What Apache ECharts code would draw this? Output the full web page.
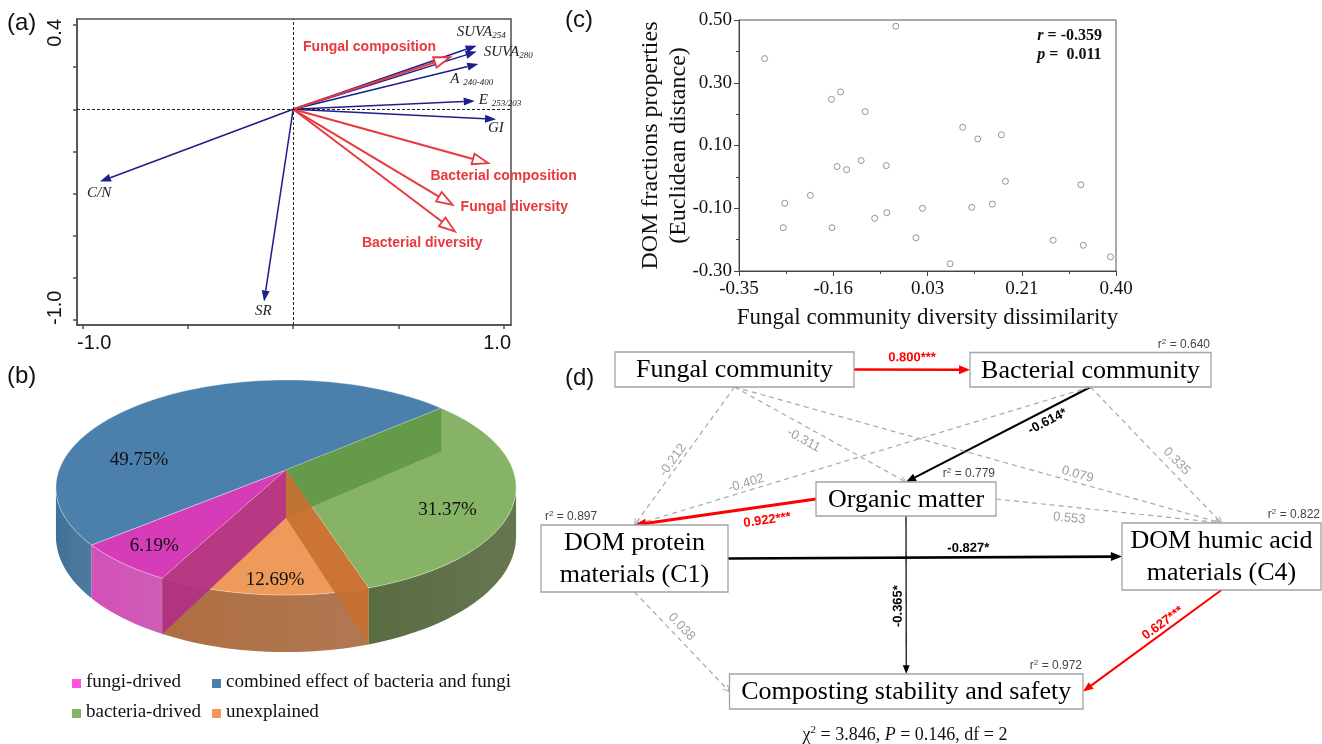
<!DOCTYPE html>
<html>
<head>
<meta charset="utf-8">
<script src="https://cdn.jsdelivr.net/npm/echarts@6/dist/echarts.min.js"></script>
<style>
  html, body { margin: 0; padding: 0; background: #fff; }
  #main { width: 1322px; height: 744px; }
</style>
</head>
<body>
<div id="main"></div>
<script>
// fonts
const SERIF = 'Liberation Serif';
const SANS = 'Liberation Sans';

// ---------- (a) RDA biplot data ----------
const aVarNames = ['SUVA_254', 'SUVA_280', 'A _240-400', 'E _253/203', 'GI', 'C/N', 'SR',
  'Fungal composition', 'Bacterial composition', 'Fungal diversity', 'Bacterial diversity'];
const aVarX = [0.870, 0.870, 0.878, 0.861, 0.962, -0.916, -0.138, 0.744, 0.926, 0.756, 0.767];
const aVarY = [0.302, 0.274, 0.215, 0.039, -0.047, -0.343, -0.912, 0.247, -0.256, -0.454, -0.580];
const aVarGroup = ['env', 'env', 'env', 'env', 'env', 'env', 'env', 'micro', 'micro', 'micro', 'micro'];
const aXTicks = [-1.0, -0.5, 0, 0.5, 1.0];
const aYTicks = [-1.0, -0.8, -0.6, -0.4, -0.2, 0, 0.2, 0.4];
const aXLabels = ['-1.0', '1.0'];
const aYLabels = ['-1.0', '0.4'];

// ---------- (b) pie data ----------
const pieNames = ['fungi-drived', 'combined effect of bacteria and fungi', 'bacteria-drived', 'unexplained'];
const pieValues = [6.19, 49.75, 31.37, 12.69];

// ---------- (c) scatter data ----------
const cX = [-0.299, -0.038, -0.166, -0.148, -0.099, 0.095, 0.125, 0.172, -0.155, -0.136,
  -0.107, -0.057, 0.180, 0.330, -0.259, -0.208, -0.262, -0.165, -0.080, -0.056,
  0.015, 0.002, 0.070, 0.113, 0.154, 0.275, 0.335, 0.389];
const cY = [0.377, 0.480, 0.247, 0.271, 0.208, 0.158, 0.121, 0.134, 0.033, 0.023,
  0.052, 0.036, -0.014, -0.025, -0.084, -0.059, -0.162, -0.162, -0.132, -0.114,
  -0.100, -0.194, -0.277, -0.097, -0.087, -0.202, -0.218, -0.255];
const cXTicks = [-0.35, -0.1625, 0.025, 0.2125, 0.40];
const cXLabels = ['-0.35', '-0.16', '0.03', '0.21', '0.40'];
const cYTicks = [-0.30, -0.10, 0.10, 0.30, 0.50];
const cYLabels = ['-0.30', '-0.10', '0.10', '0.30', '0.50'];
const cR = '-0.359';
const cP = '0.011';

// ---------- (d) structural equation model ----------
const semNodes = ['Fungal community', 'Bacterial community', 'Organic matter',
  'DOM protein\nmaterials (C1)', 'DOM humic acid\nmaterials (C4)', 'Composting stability and safety'];
const semR2 = [null, 0.640, 0.779, 0.897, 0.822, 0.972];
const pathFrom = [0, 1, 0, 0, 0, 1, 1, 2, 2, 2, 3, 3, 4];
const pathTo   = [1, 2, 2, 3, 4, 3, 4, 3, 4, 5, 4, 5, 5];
const pathCoef = [0.800, -0.614, -0.311, -0.212, 0.079, -0.402, 0.335, 0.922, 0.553, -0.365, -0.827, 0.038, 0.627];
const pathSig  = ['***', '*', '', '', '', '', '', '***', '', '*', '*', '', '***'];
const fitChi2 = '3.846';
const fitP = '0.146';
const fitDf = '2';

// ---------- layout (pixels) ----------
// node boxes [x, y, w, h]
const nodeBox = [[615, 352, 239, 35], [970, 352.5, 241, 34.5], [816, 482, 180, 34],
  [541, 525, 187, 67], [1122, 523, 199, 67], [729.5, 674, 353.5, 35]];
const r2Side = ['', 'right', 'right', 'left', 'right', 'right'];
const pathAnchor = [['r', 'l'], ['b', 't'], ['b', 't'], ['b', 't'], ['b', 't'], ['b', 't'], ['b', 't'],
  ['l', 't'], ['r', 't'], ['b', 't'], ['r', 'l'], ['b', 'l'], ['b', 'r']];
// where the coefficient sits: fraction along the path, offset to the side
const pathLabelPos = [[0.5, -12], [0.26, -11], [0.44, 13], [0.56, 7], [0.70, -8], [0.75, 7.5], [0.60, -10.5],
  [0.28, -14], [0.33, 11.5], [0.57, 8], [0.61, -9], [0.42, -10], [0.39, 8]];
// label offset from arrow tip (left edge, middle)
const aLabelOffset = [[-20, -14], [7, 1], [-28, 15], [4, -1], [-8, 9], [-13, 12], [-9, 10],
  [-147, -10], [-58, 13], [8, 2], [-93, 12]];
// 3D pie projection
const PIE = { cx: 286, cy: 470, rx: 227, ry: 104.7, persp: 0.163, depth: 47.7, start: 117.8 };
const pieTop = ['#d63cb8', '#4a80ab', '#86b366', '#ee9a5a'];
const pieSide = ['#c94db0', '#3d6c93', '#56673f', '#a8693f'];
const pieWall = ['#b12d87', '#3a6288', '#5f9547', '#c87030'];
const pieWallAlpha = [0.9, 0, 0.85, 0.9];
const pieLegend = ['#ff55dd', '#4a7fab', '#86b366', '#f09856'];
// label spot [angle, radius] on the top face
const pieLabelSpot = [[128.7, 0.83], [188.4, 0.665], [28.2, 0.76], [92.6, 0.9]];

const chart = echarts.init(document.getElementById('main'), null, { renderer: 'canvas' });

// ---- helpers ----
function nearestLabel(v, ticks, labels) {
  let best = 0;
  for (let i = 1; i < ticks.length; i++) {
    if (Math.abs(ticks[i] - v) < Math.abs(ticks[best] - v)) best = i;
  }
  return labels[best];
}

function richName(name) {
  const parts = name.split('_');
  let text = '{m|' + parts[0] + '}';
  if (parts[1]) text += '{s|' + parts[1] + '}';
  return text;
}

// (a) arrows
function renderArrow(params, api) {
  const i = api.value(2);
  const p0 = api.coord([0, 0]);
  const p1 = api.coord([api.value(0), api.value(1)]);
  const env = aVarGroup[i] === 'env';
  const color = env ? '#1c1f8c' : '#e8393f';
  const dx = p1[0] - p0[0], dy = p1[1] - p0[1];
  const len = Math.hypot(dx, dy), ux = dx / len, uy = dy / len, nx = -uy, ny = ux;
  const L = env ? 11 : 16, W = env ? 8 : 11;
  const bx = p1[0] - ux * L, by = p1[1] - uy * L;
  const head = [[p1[0], p1[1]], [bx + nx * W / 2, by + ny * W / 2], [bx - nx * W / 2, by - ny * W / 2]];
  const off = aLabelOffset[i];
  const children = [
    { type: 'line', shape: { x1: p0[0], y1: p0[1], x2: bx, y2: by }, style: { stroke: color, lineWidth: env ? 1.5 : 2 } },
    { type: 'polygon', shape: { points: head },
      style: env ? { fill: color } : { fill: '#fff', stroke: color, lineWidth: 1.8 } }
  ];
  if (env) {
    children.push({
      type: 'text', x: p1[0] + off[0], y: p1[1] + off[1],
      style: {
        text: richName(aVarNames[i]), align: 'left', verticalAlign: 'middle',
        rich: {
          m: { fontFamily: SERIF, fontStyle: 'italic', fontSize: 15, fill: '#222', lineHeight: 16 },
          s: { fontFamily: SERIF, fontStyle: 'italic', fontSize: 9, fill: '#222', lineHeight: 16, verticalAlign: 'bottom' }
        }
      }
    });
  } else {
    children.push({
      type: 'text', x: p1[0] + off[0], y: p1[1] + off[1],
      style: { text: aVarNames[i], align: 'left', verticalAlign: 'middle',
        fontFamily: SANS, fontWeight: 'bold', fontSize: 14, fill: color }
    });
  }
  return { type: 'group', children: children };
}

// (b) 3D pie
function proj(phi, r, down) {
  const a = phi * Math.PI / 180, X = r * Math.cos(a), Z = r * Math.sin(a);
  const s = 1 / (1 - PIE.persp * Z);
  return [PIE.cx + PIE.rx * X * s, PIE.cy + (PIE.ry * Z + PIE.depth * down) * s];
}
function sliceAngles(i) {
  const total = pieValues.reduce((a, b) => a + b, 0);
  let a0 = PIE.start;
  for (let k = 0; k < i; k++) a0 += pieValues[k] / total * 360;
  return [a0, a0 + pieValues[i] / total * 360];
}
function arc(a0, a1, down) {
  const pts = [];
  const n = Math.max(2, Math.ceil((a1 - a0) / 2));
  for (let k = 0; k <= n; k++) pts.push(proj(a0 + (a1 - a0) * k / n, 1, down));
  return pts;
}
function renderPieSides(params) {
  const i = params.dataIndex;
  const [a0, a1] = sliceAngles(i);
  const sil = Math.asin(PIE.persp) * 180 / Math.PI;
  const children = [];
  [[sil, 180 - sil], [360 + sil, 540 - sil]].forEach(r => {
    const s0 = Math.max(a0, r[0]), s1 = Math.min(a1, r[1]);
    if (s1 > s0) {
      const top = arc(s0, s1, 0), bot = arc(s0, s1, 1).reverse();
      children.push({
        type: 'polygon', shape: { points: top.concat(bot) },
        style: {
          fill: new echarts.graphic.LinearGradient(0, 0, 1, 0, [
            { offset: 0, color: echarts.color.lift(pieSide[i], -0.05) },
            { offset: 1, color: echarts.color.lift(pieSide[i], 0.1) }
          ])
        }
      });
    }
  });
  return { type: 'group', children: children };
}
function renderPieTops(params) {
  const i = params.dataIndex;
  const [a0, a1] = sliceAngles(i);
  const pts = [proj(0, 0, 0)].concat(arc(a0, a1, 0));
  return {
    type: 'polygon', shape: { points: pts },
    style: { fill: pieTop[i], stroke: 'rgba(255,255,255,0.45)', lineWidth: 0.8 }
  };
}
// inner walls seen through the translucent slices, plus the labels
function renderPieWalls(params) {
  const i = params.dataIndex;
  const a = sliceAngles(i)[0];
  const spot = proj(pieLabelSpot[i][0], pieLabelSpot[i][1], 0);
  const children = [];
  if (pieWallAlpha[i] > 0) {
    children.push({
      type: 'polygon',
      shape: { points: [proj(0, 0, 0), proj(a, 1, 0), proj(a, 1, 1), proj(0, 0, 1)] },
      style: { fill: pieWall[i], opacity: pieWallAlpha[i] }
    });
  }
  children.push({ type: 'text', x: spot[0], y: spot[1], z2: 10,
    style: { text: pieValues[i].toFixed(2) + '%', align: 'center', verticalAlign: 'middle',
      fontFamily: SERIF, fontSize: 19, fill: '#111' } });
  return { type: 'group', children: children };
}

// (d) path diagram
function anchor(i, side) {
  const b = nodeBox[i];
  if (side === 't') return [b[0] + b[2] / 2, b[1]];
  if (side === 'b') return [b[0] + b[2] / 2, b[1] + b[3]];
  if (side === 'l') return [b[0], b[1] + b[3] / 2];
  return [b[0] + b[2], b[1] + b[3] / 2];
}
function renderPath(params) {
  const i = params.dataIndex;
  const a = anchor(pathFrom[i], pathAnchor[i][0]);
  const b = anchor(pathTo[i], pathAnchor[i][1]);
  const coef = pathCoef[i], sig = pathSig[i];
  const dx = b[0] - a[0], dy = b[1] - a[1];
  const len = Math.hypot(dx, dy), ux = dx / len, uy = dy / len, nx = -uy, ny = ux;
  const color = sig ? (coef > 0 ? '#ff0000' : '#000000') : '#a8a8a8';
  const width = sig ? Math.abs(coef) * 3.3 : 1.2;
  const children = [];
  if (sig) {
    const L = 7 + width * 1.5, W = 5 + width * 1.5;
    const bx = b[0] - ux * L, by = b[1] - uy * L;
    children.push({ type: 'line', shape: { x1: a[0], y1: a[1], x2: bx + ux, y2: by + uy },
      style: { stroke: color, lineWidth: width } });
    children.push({ type: 'polygon',
      shape: { points: [b, [bx + nx * W / 2, by + ny * W / 2], [bx - nx * W / 2, by - ny * W / 2]] },
      style: { fill: color } });
  } else {
    children.push({ type: 'line', shape: { x1: a[0], y1: a[1], x2: b[0], y2: b[1] },
      style: { stroke: color, lineWidth: width, lineDash: [5, 4] } });
    const bx = b[0] - ux * 6, by = b[1] - uy * 6;
    children.push({ type: 'polyline',
      shape: { points: [[bx + nx * 3, by + ny * 3], b, [bx - nx * 3, by - ny * 3]] },
      style: { stroke: color, lineWidth: 1, fill: null } });
  }
  const pos = pathLabelPos[i];
  const lx = a[0] + dx * pos[0] + nx * pos[1];
  const ly = a[1] + dy * pos[0] + ny * pos[1];
  let ang = Math.atan2(dy, dx);
  if (ang > Math.PI / 2 - 0.02) ang -= Math.PI;
  if (ang < -Math.PI / 2 - 0.02) ang += Math.PI;
  children.push({
    type: 'text', x: lx, y: ly, rotation: -ang,
    style: {
      text: coef.toFixed(3) + sig, align: 'center', verticalAlign: 'middle',
      fontFamily: SANS, fontSize: 13, fontWeight: sig ? 'bold' : 'normal',
      fill: sig ? color : '#a0a0a0'
    }
  });
  return { type: 'group', children: children };
}
function renderNode(params) {
  const i = params.dataIndex;
  const b = nodeBox[i];
  const children = [
    { type: 'rect', shape: { x: b[0], y: b[1], width: b[2], height: b[3] },
      style: { fill: '#fff', stroke: '#a3a3a3', lineWidth: 1.3 } },
    { type: 'text', x: b[0] + b[2] / 2, y: b[1] + b[3] / 2 + 1,
      style: { text: semNodes[i], align: 'center', verticalAlign: 'middle',
        fontFamily: SERIF, fontSize: 26, lineHeight: 32, fill: '#000' } }
  ];
  if (semR2[i] != null) {
    children.push({
      type: 'text', x: r2Side[i] === 'left' ? b[0] + 4 : b[0] + b[2] - 1, y: b[1] - 8,
      style: {
        text: '{r|r}{s|2}{r| = ' + semR2[i].toFixed(3) + '}',
        align: r2Side[i], verticalAlign: 'middle',
        rich: {
          r: { fontFamily: SANS, fontSize: 12, fill: '#444', lineHeight: 14 },
          s: { fontFamily: SANS, fontSize: 8, fill: '#444', lineHeight: 14, verticalAlign: 'top' }
        }
      }
    });
  }
  return { type: 'group', children: children };
}

// legend of (b), laid out in two columns
const legendCols = [72, 212];
const legendRows = [684, 714];
const legendGraphics = [];
pieNames.forEach((name, i) => {
  const col = legendCols[i % 2], row = legendRows[Math.floor(i / 2)];
  legendGraphics.push({ type: 'rect', left: col, top: row - 5, shape: { width: 9, height: 9 },
    style: { fill: pieLegend[i] } });
  legendGraphics.push({ type: 'text', left: col + 14, top: row - 11,
    style: { text: name, font: '19px ' + SERIF, fill: '#111' } });
});

const cXMinor = cXTicks.slice(1).map((v, i) => (v + cXTicks[i]) / 2);
const cYMinor = cYTicks.slice(1).map((v, i) => (v + cYTicks[i]) / 2);

const aXMin = -1.025, aXMax = 1.033, aYMin = -1.024, aYMax = 0.4285;

const option = {
  animation: false,
  backgroundColor: '#fff',
  grid: [
    { left: 77, top: 19, width: 434, height: 306, show: true, borderColor: '#4d4d4d', borderWidth: 1.5 },
    { left: 739, top: 20, width: 377, height: 251, show: true, borderColor: '#555', borderWidth: 1 }
  ],
  xAxis: [
    {
      gridIndex: 0, type: 'value', min: aXMin, max: aXMax,
      axisLine: { show: true, onZero: false, lineStyle: { color: '#4d4d4d', width: 1.5 } },
      axisTick: { show: true, length: 4, customValues: aXTicks, lineStyle: { color: '#4d4d4d', width: 1.5 } },
      axisLabel: {
        customValues: [aXMin, aXMax], showMinLabel: true, showMaxLabel: true,
        alignMinLabel: 'left', alignMaxLabel: 'right', margin: 8,
        formatter: v => v < 0 ? aXLabels[0] : aXLabels[1],
        fontFamily: SANS, fontSize: 20, color: '#111'
      },
      splitLine: { show: false }
    },
    {
      gridIndex: 1, type: 'value', min: -0.35, max: 0.40,
      name: 'Fungal community diversity dissimilarity', nameLocation: 'middle', nameGap: 35,
      nameMoveOverlap: false,
      nameTextStyle: { fontFamily: SERIF, fontSize: 23, color: '#111' },
      axisLine: { show: true, onZero: false, lineStyle: { color: '#444' } },
      axisTick: { show: true, length: 5, customValues: cXTicks, lineStyle: { color: '#444' } },
      axisLabel: {
        customValues: cXTicks, margin: 9,
        formatter: v => nearestLabel(v, cXTicks, cXLabels),
        fontFamily: SERIF, fontSize: 19, color: '#111'
      },
      splitLine: { show: false }
    },
    {
      gridIndex: 1, type: 'value', min: -0.35, max: 0.40, position: 'bottom',
      axisLine: { show: false, onZero: false },
      axisTick: { show: true, length: 3, customValues: cXMinor, lineStyle: { color: '#444' } },
      axisLabel: { show: false }, splitLine: { show: false }
    }
  ],
  yAxis: [
    {
      gridIndex: 0, type: 'value', min: aYMin, max: aYMax,
      axisLine: { show: true, onZero: false, lineStyle: { color: '#4d4d4d', width: 1.5 } },
      axisTick: { show: true, length: 4, customValues: aYTicks, lineStyle: { color: '#4d4d4d', width: 1.5 } },
      axisLabel: {
        customValues: [aYMin, aYMax], showMinLabel: true, showMaxLabel: true, rotate: 90,
        alignMinLabel: 'left', alignMaxLabel: 'right', margin: 12,
        formatter: v => v < 0 ? aYLabels[0] : aYLabels[1],
        fontFamily: SANS, fontSize: 20, color: '#111'
      },
      splitLine: { show: false }
    },
    {
      gridIndex: 1, type: 'value', min: -0.30, max: 0.50,
      name: 'DOM fractions properties\n(Euclidean distance)', nameLocation: 'middle', nameGap: 46, nameRotate: 90,
      nameMoveOverlap: false,
      nameTextStyle: { fontFamily: SERIF, fontSize: 24, lineHeight: 28, color: '#111' },
      axisLine: { show: true, onZero: false, lineStyle: { color: '#444' } },
      axisTick: { show: true, length: 5, customValues: cYTicks, lineStyle: { color: '#444' } },
      axisLabel: {
        customValues: cYTicks, margin: 7,
        formatter: v => nearestLabel(v, cYTicks, cYLabels),
        fontFamily: SERIF, fontSize: 19, color: '#111'
      },
      splitLine: { show: false }
    },
    {
      gridIndex: 1, type: 'value', min: -0.30, max: 0.50, position: 'left',
      axisLine: { show: false, onZero: false },
      axisTick: { show: true, length: 3, customValues: cYMinor, lineStyle: { color: '#444' } },
      axisLabel: { show: false }, splitLine: { show: false }
    }
  ],
  series: [
    // (a) origin cross-hairs
    {
      type: 'line', xAxisIndex: 0, yAxisIndex: 0, data: [[0, 0]], showSymbol: false, silent: true,
      lineStyle: { opacity: 0 },
      markLine: {
        silent: true, symbol: 'none', label: { show: false },
        lineStyle: { color: '#222', type: [3, 2], width: 1 },
        data: [{ xAxis: 0 }, { yAxis: 0 }]
      }
    },
    // (a) arrows
    {
      type: 'custom', xAxisIndex: 0, yAxisIndex: 0, z: 3,
      data: aVarX.map((x, i) => [x, aVarY[i], i]),
      encode: { x: 0, y: 1 },
      renderItem: renderArrow
    },
    // (b) pie layers
    { type: 'custom', coordinateSystem: 'none', z: 2, data: pieValues.map((v, i) => [i]), renderItem: renderPieSides },
    { type: 'custom', coordinateSystem: 'none', z: 3, data: pieValues.map((v, i) => [i]), renderItem: renderPieTops },
    { type: 'custom', coordinateSystem: 'none', z: 4, data: pieValues.map((v, i) => [i]), renderItem: renderPieWalls },
    // (c) scatter
    {
      type: 'scatter', xAxisIndex: 1, yAxisIndex: 1,
      data: cX.map((x, i) => [x, cY[i]]),
      symbol: 'circle', symbolSize: 6,
      itemStyle: { color: '#fff', borderColor: '#7a7a7a', borderWidth: 1 }
    },
    // (d) paths and nodes
    { type: 'custom', coordinateSystem: 'none', z: 2, data: pathCoef.map((v, i) => [i]), renderItem: renderPath },
    { type: 'custom', coordinateSystem: 'none', z: 3, data: semNodes.map((v, i) => [i]), renderItem: renderNode }
  ],
  graphic: [
    { type: 'text', left: 7, top: 11, style: { text: '(a)', font: '24px ' + SANS, fill: '#111' } },
    { type: 'text', left: 7, top: 364, style: { text: '(b)', font: '24px ' + SANS, fill: '#111' } },
    { type: 'text', left: 565, top: 8, style: { text: '(c)', font: '24px ' + SANS, fill: '#111' } },
    { type: 'text', left: 565, top: 366, style: { text: '(d)', font: '24px ' + SANS, fill: '#111' } },
    {
      type: 'text', right: 1322 - 1102, top: 28,
      style: {
        text: '{i|r}{b| = ' + cR + '}\n{i|p}{b| =  ' + cP + '}', align: 'right',
        rich: {
          i: { fontFamily: SERIF, fontStyle: 'italic', fontWeight: 'bold', fontSize: 16, lineHeight: 19, fill: '#111' },
          b: { fontFamily: SERIF, fontWeight: 'bold', fontSize: 16, lineHeight: 19, fill: '#111' }
        }
      }
    },
    {
      type: 'text', x: 905, y: 735,
      style: {
        text: '{n|\u03c7}{s|2}{n| = ' + fitChi2 + ', }{i|P}{n| = ' + fitP + ', df = ' + fitDf + '}',
        align: 'center', verticalAlign: 'middle',
        rich: {
          n: { fontFamily: SERIF, fontSize: 18, lineHeight: 20, fill: '#111' },
          i: { fontFamily: SERIF, fontStyle: 'italic', fontSize: 18, lineHeight: 20, fill: '#111' },
          s: { fontFamily: SERIF, fontSize: 11, lineHeight: 20, verticalAlign: 'top', fill: '#111' }
        }
      }
    }
  ].concat(legendGraphics)
};

chart.setOption(option);
</script>
</body>
</html>
